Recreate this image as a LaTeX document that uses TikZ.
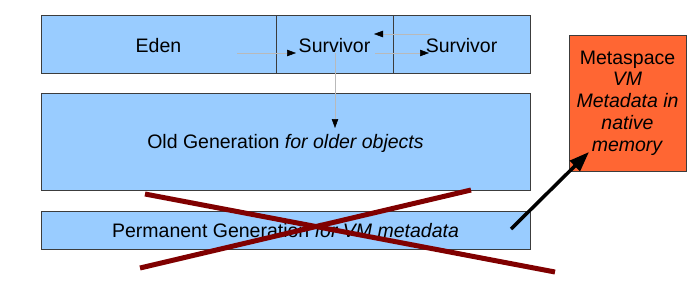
\documentclass[tikz,border=0pt]{standalone}
\usepackage{fontspec}
\setmainfont{Liberation Sans}
\usetikzlibrary{arrows.meta}
\definecolor{heapblue}{HTML}{99CCFF}
\definecolor{metaorange}{HTML}{FF6633}
\definecolor{crossred}{HTML}{800000}
\definecolor{boxline}{HTML}{3C3C3C}
\tikzset{
  heapbox/.style={draw=boxline, line width=0.9pt, fill=heapblue, rectangle, inner sep=0pt, outer sep=0pt, font=\fontsize{19.5}{22}\selectfont},
  metabox/.style={draw=boxline, line width=0.9pt, fill=metaorange, rectangle, inner sep=0pt, outer sep=0pt, align=center, font=\fontsize{19.5}{21.8}\selectfont},
  boxlabel/.style={inner sep=0pt, font=\fontsize{19.5}{22}\selectfont},
  flow/.style={draw=gray!55, line width=0.5pt, -{Triangle[length=9pt,width=6.5pt,color=black]}},
  crossline/.style={draw=crossred, line width=5pt},
  moveto/.style={draw=black, line width=3.5pt, -{Triangle[length=20pt,width=14pt]}}
}
\begin{document}
\begin{tikzpicture}[x=1pt,y=-1pt]
\useasboundingbox (0,0) rectangle (700,287);
% heap boxes
\node[heapbox, minimum width=235pt, minimum height=58pt] (eden) at (158.5,44) {};
\node[heapbox, minimum width=117pt, minimum height=58pt] (surv1) at (334.5,44) {};
\node[heapbox, minimum width=137pt, minimum height=58pt] (surv2) at (461.5,44) {};
\node[heapbox, minimum width=489pt, minimum height=97pt] (old) at (285.5,141.5) {};
\node[heapbox, minimum width=489pt, minimum height=38pt] (perm) at (285.5,230) {};
\node[boxlabel, anchor=base] (edenl) at (158.5,52) {Eden};
\node[boxlabel, anchor=base] (surv1l) at (334.5,52) {Survivor};
\node[boxlabel, anchor=base] (surv2l) at (461.5,52) {Survivor};
\node[boxlabel, anchor=base] (oldl) at (285.5,148) {Old Generation \textit{for older objects}};
\node[boxlabel, anchor=base] (perml) at (285.5,237) {Permanent Generation \textit{for VM metadata}};
\node[metabox, minimum width=117pt, minimum height=136pt] (meta) at (627.5,103) {Metaspace\\\textit{VM}\\\textit{Metadata in}\\\textit{native}\\\textit{memory}};
% flow arrows
\coordinate (e1) at (237,53);
\coordinate (s1in) at (296,53);
\coordinate (s2a) at (430,34);
\coordinate (s1b) at (374,34);
\coordinate (s1c) at (375,53);
\coordinate (s2in) at (429,53);
\coordinate (s1d) at (335,53);
\coordinate (oldin) at (335,128);
\draw[flow] (e1) -- (s1in);
\draw[flow] (s2a) -- (s1b);
\draw[flow] (s1c) -- (s2in);
\draw[flow] (s1d) -- (oldin);
% cross
\coordinate (xa1) at (145,194);
\coordinate (xa2) at (555,272);
\coordinate (xb1) at (140,268);
\coordinate (xb2) at (471,190);
\draw[crossline] (xa1) -- (xa2);
\draw[crossline] (xb1) -- (xb2);
% move arrow
\coordinate (pm) at (511,229);
\coordinate (mt) at (589,152);
\draw[moveto] (pm) -- (mt);
\end{tikzpicture}
\end{document}
